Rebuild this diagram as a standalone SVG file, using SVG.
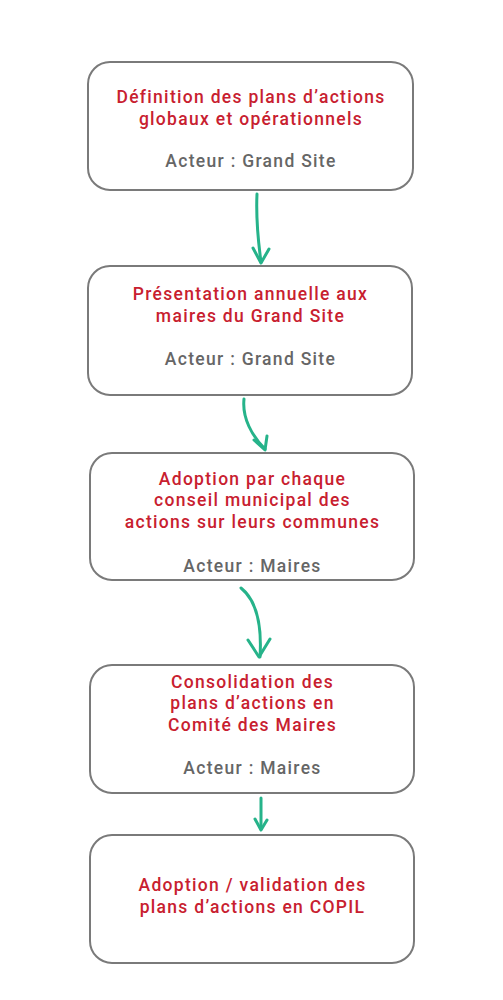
<svg xmlns="http://www.w3.org/2000/svg" width="503" height="1000" viewBox="0 0 503 1000">
<style>
.box{fill:#fff;stroke:#7a7a7a;stroke-width:2}
.t{font-family:Roboto,"Noto Sans","Liberation Sans",sans-serif;font-size:17.5px;font-weight:500;letter-spacing:1.3px;text-anchor:middle}
.r{fill:#c8202f}
.g{fill:#666}
.arr{fill:none;stroke:#26b38a;stroke-width:3;stroke-linecap:round;stroke-linejoin:round}
</style>
<rect width="503" height="1000" fill="#fff"/>
<g id="n1">
<rect class="box" x="88" y="62" width="325" height="128" rx="22"/>
<text class="t r" x="251" y="103">Définition des plans d’actions</text>
<text class="t r" x="251" y="125">globaux et opérationnels</text>
<text class="t g" x="251" y="167">Acteur : Grand Site</text>
</g>
<g id="n2">
<rect class="box" x="88" y="266" width="324" height="129" rx="22"/>
<text class="t r" x="250.5" y="300">Présentation annuelle aux</text>
<text class="t r" x="250.5" y="322">maires du Grand Site</text>
<text class="t g" x="250.5" y="365">Acteur : Grand Site</text>
</g>
<g id="n3">
<rect class="box" x="90" y="453" width="324" height="127" rx="22"/>
<text class="t r" x="252.5" y="484.5">Adoption par chaque</text>
<text class="t r" x="252.5" y="506">conseil municipal des</text>
<text class="t r" x="252.5" y="527.5">actions sur leurs communes</text>
<text class="t g" x="252.5" y="572">Acteur : Maires</text>
</g>
<g id="n4">
<rect class="box" x="90" y="665" width="324" height="128" rx="22"/>
<text class="t r" x="252.5" y="687.5">Consolidation des</text>
<text class="t r" x="252.5" y="709">plans d’actions en</text>
<text class="t r" x="252.5" y="730.5">Comité des Maires</text>
<text class="t g" x="252.5" y="774">Acteur : Maires</text>
</g>
<g id="n5">
<rect class="box" x="90" y="835" width="324" height="128" rx="22"/>
<text class="t r" x="252.5" y="891">Adoption / validation des</text>
<text class="t r" x="252.5" y="913">plans d’actions en COPIL</text>
</g>
<g id="connectors">
<path class="arr" d="M257 194 C256 215 258 240 261 262"/>
<path class="arr" d="M253 248 L261 263 L269 249"/>
<path class="arr" d="M244 399 C242 418 252 436 265 449"/>
<path class="arr" d="M254 440 L265 450 L267 436"/>
<path class="arr" d="M241 588 C256 600 262 625 260 657"/>
<path class="arr" d="M248 640 L259 657 L270 639"/>
<path class="arr" d="M261 798 L261 829"/>
<path class="arr" d="M255 819 L261 830 L267 820"/>
</g>
</svg>
